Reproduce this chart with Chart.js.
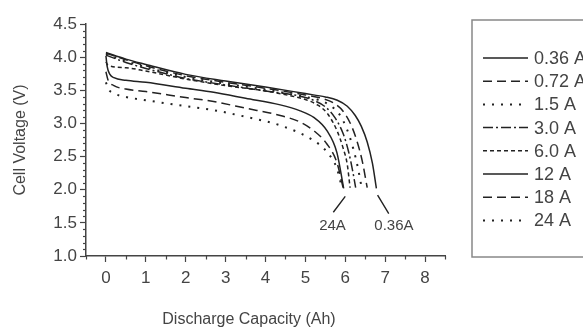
<!DOCTYPE html>
<html>
<head>
<meta charset="utf-8">
<script src="https://cdn.jsdelivr.net/npm/chart.js@4.4.1/dist/chart.umd.min.js"></script>
<style>
  html, body { margin: 0; padding: 0; background: #fff; }
</style>
</head>
<body>
<canvas id="dischargeChart" width="583" height="329"></canvas>
<script>
// Discharge curves at different currents
const currents = ['0.36 A', '0.72 A', '1.5 A', '3.0 A', '6.0 A', '12 A', '18 A', '24 A'];

const cap036  = [0, 0.5, 1, 2, 3, 4, 5, 5.5, 5.8, 6.05, 6.25, 6.4, 6.55, 6.68, 6.78];
const volt036 = [4.07, 3.97, 3.89, 3.74, 3.64, 3.55, 3.45, 3.4, 3.35, 3.26, 3.12, 2.96, 2.72, 2.4, 2.02];

const cap072  = [0, 0.5, 1, 2, 3, 4, 5, 5.4, 5.7, 5.95, 6.15, 6.3, 6.43, 6.55];
const volt072 = [4.06, 3.96, 3.87, 3.72, 3.62, 3.53, 3.43, 3.38, 3.31, 3.18, 2.97, 2.72, 2.42, 2.03];

const cap15  = [0, 0.5, 1, 2, 3, 4, 5, 5.3, 5.6, 5.85, 6.05, 6.2, 6.32, 6.41];
const volt15 = [4.05, 3.94, 3.85, 3.7, 3.6, 3.51, 3.4, 3.36, 3.28, 3.14, 2.9, 2.62, 2.32, 2.03];

const cap30  = [0, 0.5, 1, 2, 3, 4, 4.8, 5.2, 5.5, 5.75, 5.95, 6.08, 6.18, 6.26];
const volt30 = [4.03, 3.92, 3.83, 3.68, 3.58, 3.49, 3.42, 3.35, 3.25, 3.08, 2.84, 2.58, 2.3, 2.03];

const cap60  = [0, 0.05, 0.5, 1, 2, 3, 4, 4.6, 5.0, 5.3, 5.55, 5.8, 5.95, 6.05, 6.12];
const volt60 = [3.93, 3.88, 3.84, 3.79, 3.67, 3.57, 3.49, 3.42, 3.36, 3.28, 3.15, 2.88, 2.62, 2.38, 2.03];

const cap12  = [0, 0.03, 0.1, 0.2, 0.5, 1, 2, 2.7, 3.5, 4.37, 4.87, 5.21, 5.54, 5.79, 5.96];
const volt12 = [4.02, 3.86, 3.74, 3.69, 3.65, 3.62, 3.53, 3.47, 3.38, 3.28, 3.19, 3.09, 2.89, 2.56, 2.02];

const cap18  = [0, 0.05, 0.2, 0.5, 1, 2, 2.7, 3.5, 4.37, 4.87, 5.21, 5.54, 5.79, 5.95];
const volt18 = [3.78, 3.66, 3.57, 3.52, 3.48, 3.39, 3.33, 3.23, 3.12, 3.02, 2.89, 2.69, 2.41, 2.02];

const cap24  = [0, 0.05, 0.18, 0.5, 1, 2, 2.7, 3.5, 4.37, 5.21, 5.54, 5.79, 5.92];
const volt24 = [3.62, 3.53, 3.46, 3.4, 3.35, 3.26, 3.2, 3.1, 2.97, 2.74, 2.57, 2.32, 2.02];

const xTickValues = [0, 1, 2, 3, 4, 5, 6, 7, 8];
const yTickValues = [1.0, 1.5, 2.0, 2.5, 3.0, 3.5, 4.0, 4.5];

const capacities = [cap036, cap072, cap15, cap30, cap60, cap12, cap18, cap24];
const voltages   = [volt036, volt072, volt15, volt30, volt60, volt12, volt18, volt24];

// line patterns, same order as currents
const dashes = [[], [9, 5], [2, 7], [10, 3, 2, 3], [4, 3], [], [9, 5], [2, 7]];
const widths = [1.5, 1.5, 2, 1.5, 1.5, 1.5, 1.5, 2];

const lineColor = '#222';
const axisColor = '#444';
const textColor = '#444';
const fontFamily = '"Liberation Sans", Arial, sans-serif';

function toPoints(caps, volts) {
    return caps.map((c, i) => ({ x: c, y: volts[i] }));
}

const datasets = currents.map((name, i) => ({
    label: name,
    data: toPoints(capacities[i], voltages[i]),
    borderColor: lineColor,
    borderWidth: widths[i],
    borderDash: dashes[i],
    pointRadius: 0,
    fill: false,
    cubicInterpolationMode: 'monotone'
}));

// minor ticks, axis titles, curve labels and the legend box
const overlay = {
    id: 'overlay',
    afterDraw(chart) {
        const { ctx, chartArea, scales: { x, y } } = chart;
        ctx.save();
        ctx.strokeStyle = axisColor;
        ctx.lineWidth = 1.2;

        // minor ticks
        for (let i = 10; i <= 45; i++) {
            if (i % 5 === 0) continue;
            const py = Math.round(y.getPixelForValue(i / 10)) + 0.5;
            ctx.beginPath();
            ctx.moveTo(chartArea.left - 3, py);
            ctx.lineTo(chartArea.left, py);
            ctx.stroke();
        }
        for (let i = -1; i <= 17; i += 2) {
            const px = Math.round(x.getPixelForValue(i / 2)) + 0.5;
            ctx.beginPath();
            ctx.moveTo(px, chartArea.bottom);
            ctx.lineTo(px, chartArea.bottom + 3.5);
            ctx.stroke();
        }

        // pointers to the 24 A and 0.36 A curve ends
        ctx.strokeStyle = lineColor;
        ctx.lineWidth = 1.4;
        ctx.beginPath();
        ctx.moveTo(x.getPixelForValue(5.7), y.getPixelForValue(1.66));
        ctx.lineTo(x.getPixelForValue(6.0), y.getPixelForValue(1.9));
        ctx.moveTo(x.getPixelForValue(6.81), y.getPixelForValue(1.92));
        ctx.lineTo(x.getPixelForValue(7.09), y.getPixelForValue(1.64));
        ctx.stroke();

        ctx.fillStyle = textColor;
        ctx.font = '15px ' + fontFamily;
        ctx.textAlign = 'center';
        ctx.textBaseline = 'middle';
        ctx.fillText('24A', x.getPixelForValue(5.68), y.getPixelForValue(1.45));
        ctx.fillText('0.36A', x.getPixelForValue(7.22), y.getPixelForValue(1.45));

        // axis titles
        ctx.font = '16px ' + fontFamily;
        ctx.textBaseline = 'alphabetic';
        ctx.fillText('Discharge Capacity (Ah)', 249, 324);
        ctx.save();
        ctx.translate(25, (chartArea.top + chartArea.bottom) / 2);
        ctx.rotate(-Math.PI / 2);
        ctx.fillText('Cell Voltage (V)', 0, 0);
        ctx.restore();

        // legend box
        ctx.strokeStyle = '#888';
        ctx.lineWidth = 1.5;
        ctx.strokeRect(472, 20, 130, 237);
        ctx.font = '18px ' + fontFamily;
        ctx.textAlign = 'left';
        ctx.textBaseline = 'middle';
        currents.forEach((name, i) => {
            const ry = 58 + i * 23.2;
            ctx.strokeStyle = lineColor;
            ctx.lineWidth = widths[i];
            ctx.setLineDash(dashes[i]);
            ctx.beginPath();
            ctx.moveTo(483, ry);
            ctx.lineTo(528, ry);
            ctx.stroke();
            ctx.setLineDash([]);
            ctx.fillText(name, 534, ry + 1);
        });
        ctx.restore();
    }
};

const ctx = document.getElementById('dischargeChart').getContext('2d');

new Chart(ctx, {
    type: 'line',
    data: { datasets: datasets },
    options: {
        responsive: false,
        animation: false,
        devicePixelRatio: 1,
        layout: { padding: { left: 0, right: 138, top: 24, bottom: 0 } },
        plugins: { legend: { display: false }, tooltip: { enabled: false } },
        scales: {
            x: {
                type: 'linear',
                min: -0.5,
                max: 8.5,
                afterFit: s => { s.height = 73; },
                afterBuildTicks: s => { s.ticks = xTickValues.map(v => ({ value: v })); },
                grid: { drawOnChartArea: false, tickLength: 6, tickColor: axisColor, tickWidth: 1.2 },
                border: { color: axisColor, width: 1.5 },
                ticks: {
                    color: textColor,
                    padding: 6,
                    font: { family: fontFamily, size: 17 },
                    callback: v => v
                }
            },
            y: {
                type: 'linear',
                min: 1.0,
                max: 4.5,
                afterFit: s => { s.width = 86; },
                afterBuildTicks: s => { s.ticks = yTickValues.map(v => ({ value: v })); },
                grid: { drawOnChartArea: false, tickLength: 6, tickColor: axisColor, tickWidth: 1.2 },
                border: { color: axisColor, width: 1.5 },
                ticks: {
                    color: textColor,
                    padding: 3,
                    font: { family: fontFamily, size: 17 },
                    callback: v => v.toFixed(1)
                }
            }
        }
    },
    plugins: [overlay]
});
</script>
</body>
</html>
